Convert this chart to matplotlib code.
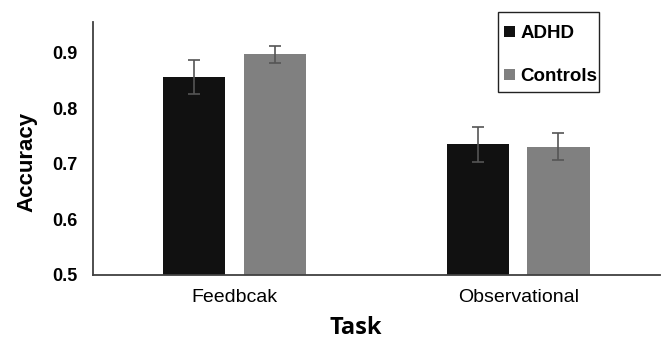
import numpy as np
import matplotlib.pyplot as plt
from matplotlib.patches import Patch, Rectangle

# mean accuracy per task and group, with error bar half-widths
tasks = ['Feedbcak', 'Observational']
groups = ['ADHD', 'Controls']
adhd_acc = [0.856, 0.735]
adhd_err = [0.031, 0.031]
ctrl_acc = [0.897, 0.731]
ctrl_err = [0.015, 0.025]

colors = ['#111111', '#808080']

fig = plt.figure(figsize=(6.62, 3.39), dpi=100)
ax = fig.add_axes([0.140, 0.189, 0.857, 0.746])

x = np.arange(len(tasks))
width = 0.22
offset = 0.142
errstyle = dict(ecolor='#555555', elinewidth=1.2, capsize=4, capthick=1.2)

ax.bar(x - offset, adhd_acc, width, color=colors[0], yerr=adhd_err,
       error_kw=errstyle, zorder=2)
ax.bar(x + offset, ctrl_acc, width, color=colors[1], yerr=ctrl_err,
       error_kw=errstyle, zorder=2)

ax.set_xlim(-0.5, 1.5)
ax.set_ylim(0.5, 0.955)
ax.set_yticks([0.5, 0.6, 0.7, 0.8, 0.9])
ax.set_yticklabels(['0.5', '0.6', '0.7', '0.8', '0.9'],
                   fontsize=13, fontweight='bold', family='Liberation Sans')
ax.set_xticks(x)
ax.set_xticklabels(tasks, fontsize=14, family='Liberation Sans')
ax.tick_params(axis='y', length=0, pad=11)
ax.tick_params(axis='x', length=0, pad=10)

for side in ['top', 'right']:
    ax.spines[side].set_visible(False)
for side in ['left', 'bottom']:
    ax.spines[side].set_color('#404040')
    ax.spines[side].set_linewidth(1.3)

ax.set_ylabel('Accuracy', fontsize=16, fontweight='bold',
              family='Liberation Sans')
ax.yaxis.set_label_coords(-0.097, 0.447)
fig.text(0.538, 0.016, 'Task', fontsize=17, fontweight='bold',
         family='Open Sans', ha='center', va='baseline')

# legend entries without a frame, boxed by a separate rectangle
handles = [Patch(facecolor=c, edgecolor='none') for c in colors]
leg = fig.legend(handles, groups, loc='upper left',
                 bbox_to_anchor=(0.762, 0.926), frameon=False,
                 handlelength=0.55, handleheight=0.55, handletextpad=0.3,
                 labelspacing=1.4, borderpad=0, borderaxespad=0,
                 prop={'family': 'Liberation Sans', 'weight': 'bold',
                       'size': 13.5})
fig.patches.append(Rectangle((0.752, 0.729), 0.153, 0.236,
                             transform=fig.transFigure, fill=False,
                             edgecolor='#222222', linewidth=1.0))

fig.savefig('out.png', dpi=100)
